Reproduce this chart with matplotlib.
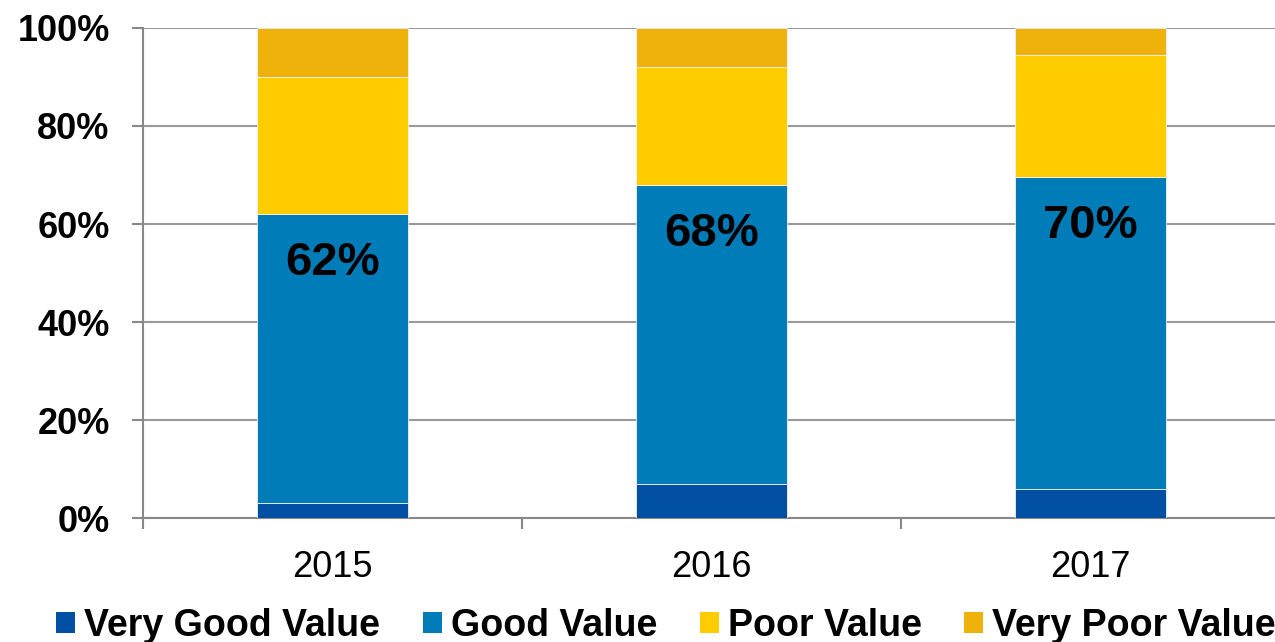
import numpy as np
import matplotlib
matplotlib.use('Agg')
import matplotlib.pyplot as plt
from matplotlib.patches import Patch

plt.rcParams['font.family'] = ['Liberation Sans', 'DejaVu Sans']

years = ['2015', '2016', '2017']
very_good = np.array([3, 7, 6])
good = np.array([59, 61, 63.5])
poor = np.array([28, 24, 25])
very_poor = np.array([10, 8, 5.5])
series_names = ['Very Good Value', 'Good Value', 'Poor Value', 'Very Poor Value']
colors = ['#004FA3', '#007DB8', '#FFCC00', '#EEB20A']

fig = plt.figure(figsize=(12.75, 6.42), dpi=100)
ax = fig.add_axes([0.1122, 0.1931, 0.8918, 0.7633])

x = np.arange(len(years))
w = 0.40
bottom = np.zeros(len(years))
for vals, col in zip([very_good, good, poor, very_poor], colors):
    ax.bar(x, vals, w, bottom=bottom, color=col, edgecolor='#F2F2F2', linewidth=0.6, zorder=3)
    bottom += vals

# percentage of good + very good
top_good = very_good + good
for xi, t in zip(x, top_good):
    ax.text(xi, t - 10, f"{t:.0f}%", ha='center', va='center',
            fontsize=34, fontweight='bold', zorder=4)

ax.set_xlim(-0.5, 2.5)
ax.set_ylim(0, 100)
ax.set_yticks(np.arange(0, 101, 20))
ax.set_yticklabels([f"{v}%" for v in range(0, 101, 20)], fontsize=26, fontweight='bold')
ax.yaxis.grid(True, color='#999999', linewidth=1.5, zorder=0)
ax.set_axisbelow(True)

ax.set_xticks(x)
ax.set_xticklabels(years, fontsize=26)
ax.set_xticks([-0.5, 0.5, 1.5, 2.5], minor=True)
ax.tick_params(axis='x', which='major', length=0, pad=23)
ax.tick_params(axis='x', which='minor', length=8, width=1.5, color='#888888', direction='out')
ax.tick_params(axis='y', length=8, width=1.5, color='#888888', pad=16)

for s in ['top', 'right']:
    ax.spines[s].set_visible(False)
for s in ['left', 'bottom']:
    ax.spines[s].set_color('#888888')
    ax.spines[s].set_linewidth(1.5)

handles = [Patch(facecolor=c, edgecolor='none') for c in colors]
fig.legend(handles, series_names, loc='lower center', ncol=4, bbox_to_anchor=(0.5225, -0.055),
           frameon=False, prop={'size': 27, 'weight': 'bold'},
           handlelength=0.5, handleheight=0.5, handletextpad=0.25, columnspacing=1.13)

fig.savefig('out.png', dpi=100)
